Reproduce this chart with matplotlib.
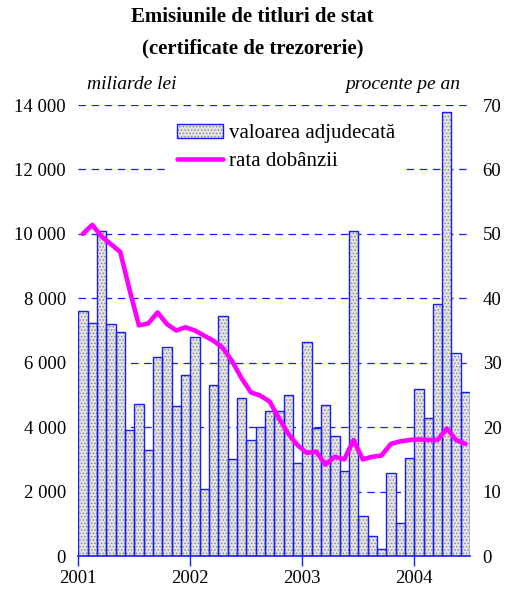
"""Emisiunile de titluri de stat - bare lunare si rata dobanzii."""

import matplotlib
matplotlib.use('Agg')
import matplotlib.pyplot as plt
from matplotlib.legend_handler import HandlerTuple

# Date lunare ian. 2001 - iun. 2004.
Valoare = [7600, 7230, 10100, 7190, 6950, 3910, 4720, 3290, 6180, 6480,
           4660, 5610, 6790, 2080, 5310, 7440, 3000, 4900, 3590, 4000,
           4490, 4490, 5000, 2880, 6640, 3970, 4690, 3740, 2640, 10080,
           1240, 620, 210, 2570, 1020, 3030, 5180, 4280, 7820, 13780,
           6300, 5080]
Rata = [50.0, 51.4, 49.6, 48.4, 47.2, 41.3, 35.8, 36.1, 37.8, 36.0,
        35.0, 35.5, 35.0, 34.2, 33.4, 32.3, 30.2, 27.6, 25.4, 24.9,
        24.0, 21.4, 19.0, 17.2, 16.0, 16.2, 14.2, 15.4, 15.0, 18.0,
        15.0, 15.4, 15.6, 17.4, 17.8, 18.0, 18.1, 18.0, 18.0, 19.8,
        18.0, 17.4]
Ani = ['2001', '2002', '2003', '2004']
Stanga = [0, 2000, 4000, 6000, 8000, 10000, 12000, 14000]
Dreapta = [0, 10, 20, 30, 40, 50, 60, 70]

Albastru = '#1a1aff'
Font = 'Liberation Serif'
plt.rcParams['font.family'] = Font
plt.rcParams['hatch.linewidth'] = 0.7

fig = plt.figure(figsize=(5.05, 5.9), dpi=100)
ax1 = fig.add_axes([0.155, 0.0576, 0.776, 0.7644])
ax2 = ax1.twinx()

# Bare: umplere punctata gri + contur albastru.
pos = [i + 0.5 for i in range(len(Valoare))]
b1 = ax1.bar(pos, Valoare, width=1.0, facecolor='#e4e4e4',
             edgecolor='#8c8c8c', hatch='.....', linewidth=0, zorder=2)
b2 = ax1.bar(pos, Valoare, width=1.0, fill=False,
             edgecolor=Albastru, linewidth=1.0, zorder=3)

# Linia ratei dobanzii.
l1, = ax2.plot(pos, Rata, color='#ff00ff', linewidth=3.3,
               solid_joinstyle='round', solid_capstyle='round', zorder=4)

ax1.set_xlim(0, len(Valoare))
ax1.set_ylim(0, 14000)
ax2.set_ylim(0, 70)

ax1.set_yticks(Stanga)
ax1.set_yticklabels(['{:,}'.format(v).replace(',', ' ') for v in Stanga],
                    fontsize=13.5)
ax2.set_yticks(Dreapta)
ax2.set_yticklabels([str(v) for v in Dreapta], fontsize=13.5)
ax1.tick_params(axis='y', length=0, pad=9)
ax2.tick_params(axis='y', length=0, pad=9)

ax1.set_xticks([0, 12, 24, 36])
ax1.set_xticklabels(Ani, fontsize=13.5)
ax1.tick_params(axis='x', length=7, width=1, color=Albastru, pad=3,
                direction='out')

# Grila orizontala punctata.
ax1.set_axisbelow(True)
ax1.yaxis.grid(True, color=Albastru, linestyle=(0, (6, 4.5)), linewidth=0.9)

for a in (ax1, ax2):
    for s in ('top', 'left', 'right', 'bottom'):
        a.spines[s].set_visible(False)
ax1.spines['bottom'].set_visible(True)
ax1.spines['bottom'].set_color(Albastru)
ax1.spines['bottom'].set_linewidth(1.2)

# Legenda.
leg = ax1.legend([(b1, b2), l1], ['valoarea adjudecată', 'rata dobânzii'],
                 handler_map={tuple: HandlerTuple(ndivide=1)},
                 loc='upper left', bbox_to_anchor=(0.205, 1.0),
                 fontsize=15, handlelength=2.2, handleheight=0.7,
                 labelspacing=0.4, handletextpad=0.3,
                 frameon=True, fancybox=False, framealpha=1,
                 facecolor='white', edgecolor='none')
leg.set_zorder(5)

# Titlu si unitati.
fig.text(0.5, 0.972, 'Emisiunile de titluri de stat',
         ha='center', va='center', fontsize=15, fontweight='bold')
fig.text(0.5, 0.918, '(certificate de trezorerie)',
         ha='center', va='center', fontsize=15, fontweight='bold')
fig.text(0.261, 0.856, 'miliarde lei', ha='center', va='center',
         fontsize=14, style='italic')
fig.text(0.797, 0.856, 'procente pe an', ha='center', va='center',
         fontsize=14, style='italic')

plt.savefig('out.png', dpi=100)
